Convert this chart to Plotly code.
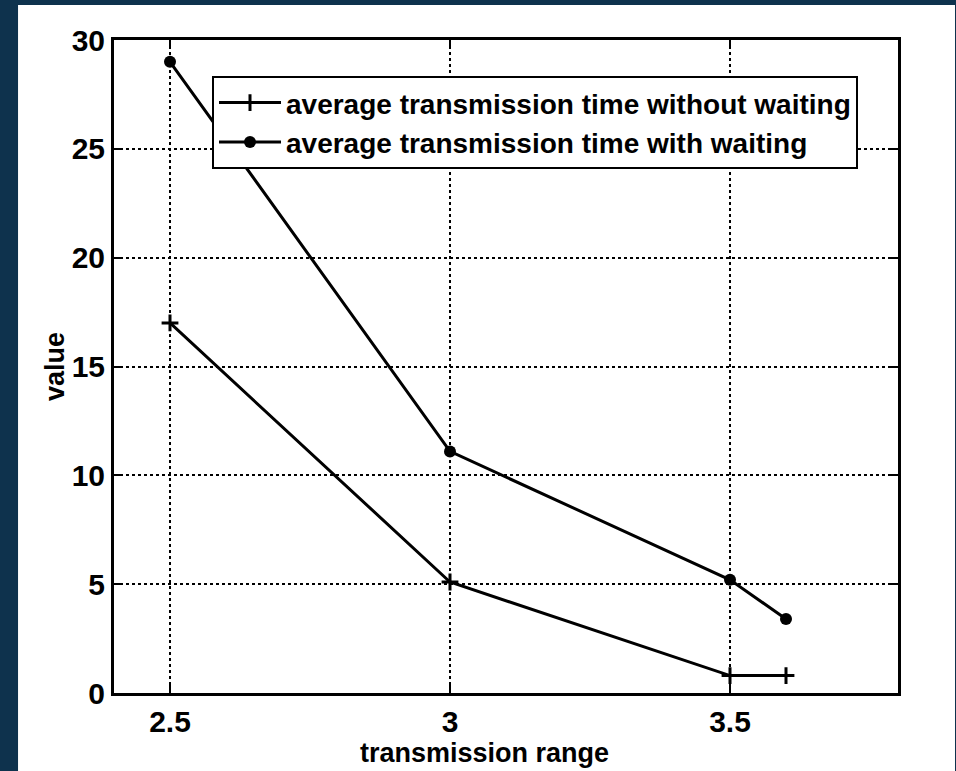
import plotly.graph_objects as go

# ---- data ----
x_range_values = [2.5, 3.0, 3.5, 3.6]
without_waiting = [17.0, 5.1, 0.8, 0.8]
with_waiting = [29.0, 11.1, 5.2, 3.4]
series_names = ["average transmission time without waiting",
                "average transmission time with waiting"]
x_ticks = [2.5, 3.0, 3.5]
x_tick_labels = ["2.5", "3", "3.5"]
y_ticks = [0, 5, 10, 15, 20, 25, 30]
y_tick_labels = ["0", "5", "10", "15", "20", "25", "30"]
x_title = "transmission range"
y_title = "value"

FONT = "Liberation Sans, Arial, Helvetica, sans-serif"
NAVY = "#0e324d"

fig = go.Figure()
fig.add_trace(go.Scatter(
    x=x_range_values, y=without_waiting, name=series_names[0],
    mode="lines+markers",
    line=dict(color="black", width=3),
    marker=dict(symbol="cross-thin", size=12, color="black",
                line=dict(color="black", width=3)),
))
fig.add_trace(go.Scatter(
    x=x_range_values, y=with_waiting, name=series_names[1],
    mode="lines+markers",
    line=dict(color="black", width=3),
    marker=dict(symbol="circle", size=12, color="black"),
))

axis_common = dict(
    showline=True, linecolor="black", linewidth=3, mirror="ticks",
    ticks="inside", ticklen=8, tickwidth=2, tickcolor="black",
    showgrid=True, gridcolor="black", gridwidth=1.5, griddash="dot",
    zeroline=False,
    tickfont=dict(family=FONT, size=30, color="black", weight="bold"),
)

fig.update_xaxes(
    range=[2.4, 3.8], tickvals=x_ticks, ticktext=x_tick_labels,
    **axis_common,
)
fig.update_yaxes(
    range=[0, 30], tickvals=y_ticks, ticktext=y_tick_labels,
    title=dict(text=y_title, standoff=0,
               font=dict(family=FONT, size=27, color="black", weight="bold")),
    **axis_common,
)

fig.update_layout(
    width=956, height=771,
    margin=dict(l=114, r=58, t=40, b=78, autoexpand=False),
    paper_bgcolor=NAVY, plot_bgcolor="white",
    showlegend=True,
    legend=dict(
        x=0.125, y=0.945, xanchor="left", yanchor="top",
        bgcolor="white", bordercolor="black", borderwidth=2,
        font=dict(family=FONT, size=28, color="black", weight="bold"),
        itemwidth=62, tracegroupgap=0,
    ),
    shapes=[dict(
        type="rect", xref="paper", yref="paper", layer="below",
        x0=-0.1224, x1=1.0727, y0=-0.13, y1=1.0536,
        fillcolor="white", line=dict(width=0),
    )],
    annotations=[dict(
        text=x_title, xref="paper", yref="paper",
        x=0.473, y=-0.092, xanchor="center", yanchor="middle",
        showarrow=False,
        font=dict(family=FONT, size=27, color="black", weight="bold"),
    )],
)

fig.write_html("out.html",
               config={"displayModeBar": False},
               post_script="document.body.style.margin='0';document.body.style.overflow='hidden';")
